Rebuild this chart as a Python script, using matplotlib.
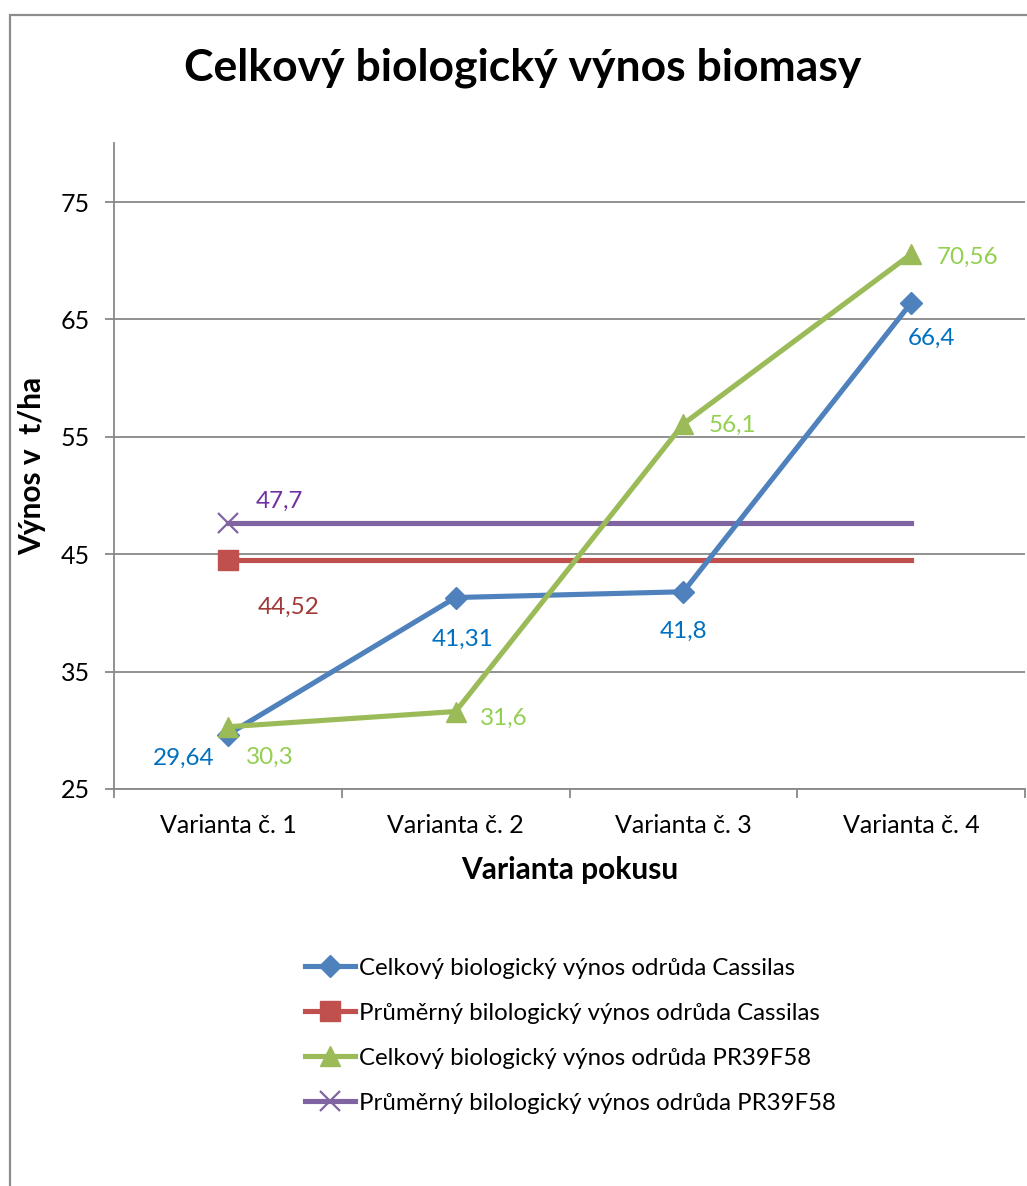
import matplotlib
matplotlib.use('Agg')
import matplotlib.pyplot as plt
from matplotlib.patches import Rectangle

plt.rcParams['font.family'] = ['Lato', 'DejaVu Sans']

varianty = ["Varianta č. 1", "Varianta č. 2", "Varianta č. 3", "Varianta č. 4"]
cassilas = [29.64, 41.31, 41.8, 66.4]
cassilas_prumer = [44.52, 44.52, 44.52, 44.52]
pr39f58 = [30.3, 31.6, 56.1, 70.56]
pr39f58_prumer = [47.7, 47.7, 47.7, 47.7]

W, H = 1027, 1186
fig = plt.figure(figsize=(W / 100, H / 100), dpi=100)
ax = fig.add_axes([114 / W, 1 - 789 / H, 911 / W, (789 - 143.3) / H])

x = list(range(len(varianty)))
grid_c = '#888888'
lw = 3.7

ax.plot(x, cassilas, color='#4F81BD', lw=lw, marker='D', ms=11,
        label='Celkový biologický výnos odrůda Cassilas', zorder=4)
ax.plot(x, cassilas_prumer, color='#C0504D', lw=lw, marker='s', ms=14,
        markevery=[0], label='Průměrný bilologický výnos odrůda Cassilas', zorder=3)
ax.plot(x, pr39f58, color='#9BBB59', lw=lw, marker='^', ms=15,
        label='Celkový biologický výnos odrůda PR39F58', zorder=5)
ax.plot(x, pr39f58_prumer, color='#8064A2', lw=lw, marker='x', ms=14, mew=1.6,
        markevery=[0], label='Průměrný bilologický výnos odrůda PR39F58', zorder=3)

# popisky hodnot (posun v pixelech)
def popisek(xi, val, dx, dy, color):
    ax.annotate(f"{val:g}".replace('.', ','), (xi, val), xytext=(dx, dy),
                textcoords='offset pixels', ha='center', va='center',
                fontsize=17.5, color=color, zorder=6)

blue_t, green_t = '#0070C0', '#92D050'
for xi, val, off in zip(x, cassilas, [(-44, -24), (7, -42), (0, -40), (20, -35)]):
    popisek(xi, val, off[0], off[1], blue_t)
for xi, val, off in zip(x, pr39f58, [(42, -31), (48, -7), (49, -1), (56, -3)]):
    popisek(xi, val, off[0], off[1], green_t)
popisek(0, cassilas_prumer[0], 61, -48, '#A03A38')
popisek(0, pr39f58_prumer[0], 52, 21, '#7030A0')

ax.set_xlim(-0.5, 3.5)
ax.set_ylim(25, 80)
ax.set_yticks([25, 35, 45, 55, 65, 75])
ax.set_xticks(x)
ax.set_xticklabels(varianty)
ax.set_xticks([-0.5, 0.5, 1.5, 2.5, 3.5], minor=True)
ax.tick_params(axis='x', which='major', length=0, pad=18, labelsize=18)
ax.tick_params(axis='x', which='minor', length=6.5, color=grid_c, width=1.3)
ax.tick_params(axis='y', length=6.5, color=grid_c, width=1.3, labelsize=18, pad=11)
ax.grid(axis='y', color=grid_c, lw=1.3)
ax.set_axisbelow(True)
for s in ['top', 'right']:
    ax.spines[s].set_visible(False)
for s in ['left', 'bottom']:
    ax.spines[s].set_color(grid_c)
    ax.spines[s].set_linewidth(1.3)

ax.set_ylabel('Výnos v  t/ha', fontsize=21.5, fontweight='bold', labelpad=10)
ax.set_xlabel('Varianta pokusu', fontsize=21.5, fontweight='bold', labelpad=14)
fig.text(523 / W, 1 - 68 / H, 'Celkový biologický výnos biomasy', ha='center',
         va='center', fontsize=32, fontweight='bold')

ax.legend(loc='upper left', bbox_to_anchor=(283 / W, 1 - 936 / H),
          bbox_transform=fig.transFigure, frameon=False, fontsize=17.3,
          handlelength=2.1, handletextpad=0.17, labelspacing=1.0)

fig.patches.append(Rectangle((9.5 / W, -0.01), 1.1, (H - 15) / H + 0.01,
                             transform=fig.transFigure, fill=False,
                             edgecolor='#8C8C8C', lw=1.6))

fig.savefig('out.png', dpi=100)
